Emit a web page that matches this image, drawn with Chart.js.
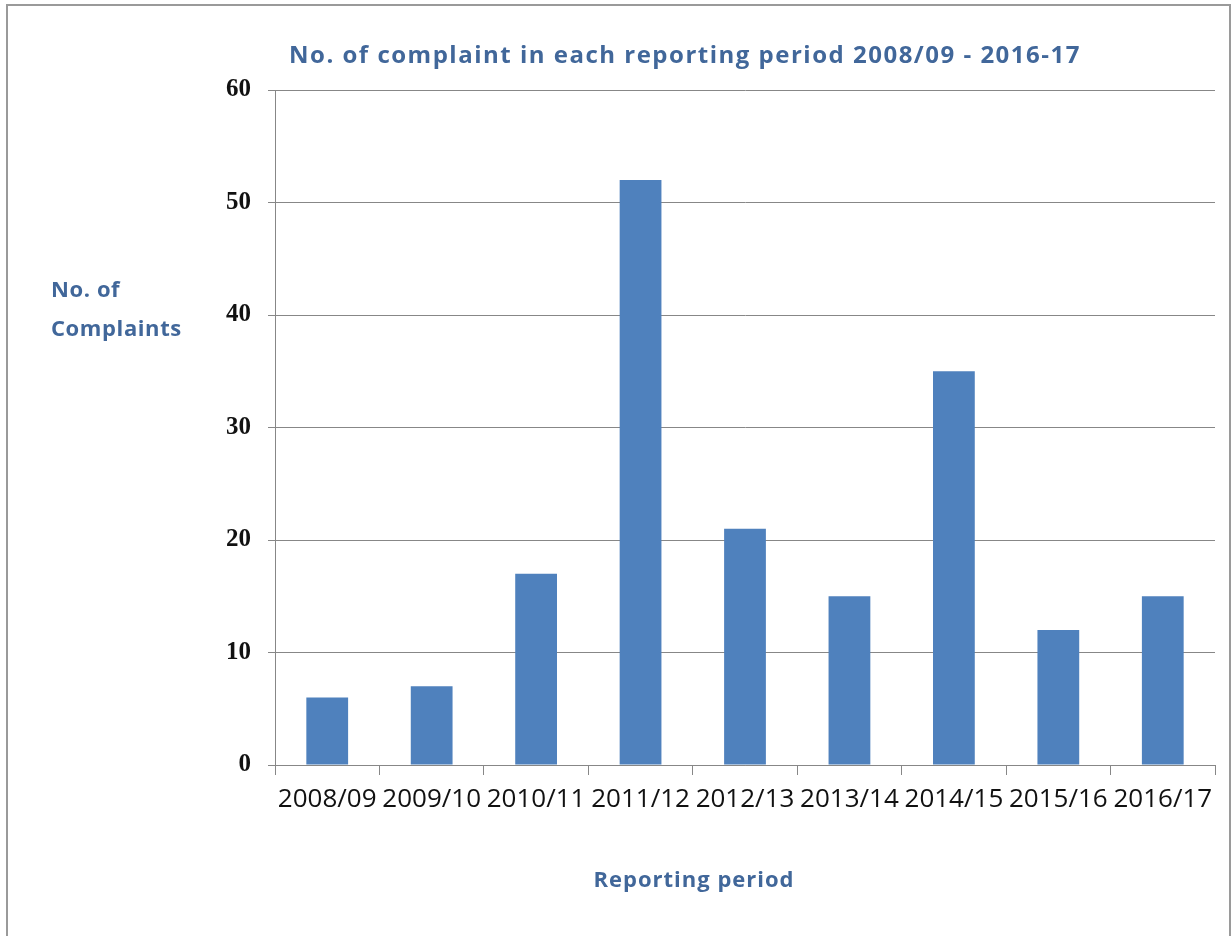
<!DOCTYPE html>
<html>
<head>
<meta charset="utf-8">
<script src="https://cdn.jsdelivr.net/npm/chart.js@4/dist/chart.umd.min.js"></script>
<style>
  html, body { margin: 0; padding: 0; background: #fff; }
  #wrap { position: relative; width: 1231px; height: 936px; }
  #frame {
    position: absolute; left: 6px; top: 4px; width: 1221px; height: 940px;
    border: 2px solid #9a9a9a; border-bottom: none; pointer-events: none;
  }
  canvas { position: absolute; left: 0; top: 0; }
</style>
</head>
<body>
<div id="wrap">
  <canvas id="chart" width="1231" height="936"></canvas>
  <div id="frame"></div>
</div>
<script>
// Complaints per reporting period
const periods = ['2008/09', '2009/10', '2010/11', '2011/12', '2012/13', '2013/14', '2014/15', '2015/16', '2016/17'];
const complaints = [6, 7, 17, 52, 21, 15, 35, 12, 15];
const yTicks = [0, 10, 20, 30, 40, 50, 60];

const titleBlue = '#41679a';
const gridGrey = '#878787';

// title and the horizontal axis captions are drawn by hand
const captions = {
    id: 'captions',
    afterDraw(chart) {
        const ctx = chart.ctx;
        ctx.save();
        ctx.fillStyle = titleBlue;
        ctx.textBaseline = 'alphabetic';

        ctx.font = 'bold 24px "Open Sans"';
        ctx.letterSpacing = '1.5px';
        ctx.textAlign = 'center';
        ctx.fillText('No. of complaint in each reporting period 2008/09 - 2016-17', 685, 63);

        ctx.font = 'bold 22px "Open Sans"';
        ctx.letterSpacing = '0.6px';
        ctx.textAlign = 'left';
        ctx.fillText('No. of', 51, 297);
        ctx.fillText('Complaints', 51, 336);

        ctx.letterSpacing = '1px';
        ctx.textAlign = 'center';
        ctx.fillText('Reporting period', 694, 887);
        ctx.restore();
    }
};

new Chart(document.getElementById('chart'), {
    type: 'bar',
    data: {
        labels: periods,
        datasets: [{
            label: 'Complaints',
            data: complaints,
            backgroundColor: '#4f81bd',
            barPercentage: 0.4,
            categoryPercentage: 1.0
        }]
    },
    options: {
        responsive: false,
        animation: false,
        layout: {
            padding: { left: 0, top: 90, right: 16, bottom: 111 }
        },
        plugins: {
            legend: { display: false },
            tooltip: { enabled: false }
        },
        scales: {
            x: {
                offset: true,
                grid: {
                    offset: true,
                    drawOnChartArea: false,
                    drawTicks: true,
                    tickLength: 10,
                    color: gridGrey
                },
                border: { color: gridGrey, width: 1 },
                ticks: {
                    color: '#111',
                    padding: 9,
                    maxRotation: 0,
                    font: { family: 'Open Sans', size: 26 }
                },
                afterFit(scale) { scale.height = 60; }
            },
            y: {
                min: 0,
                max: 60,
                afterBuildTicks(scale) {
                    scale.ticks = yTicks.map(v => ({ value: v }));
                },
                grid: {
                    color: gridGrey,
                    drawTicks: true,
                    tickLength: 7
                },
                border: { color: gridGrey, width: 1 },
                ticks: {
                    color: '#111',
                    padding: 17,
                    font: { family: 'Liberation Serif', size: 25, weight: 'bold' }
                },
                afterFit(scale) { scale.width = 275; }
            }
        }
    },
    plugins: [captions]
});
</script>
</body>
</html>
